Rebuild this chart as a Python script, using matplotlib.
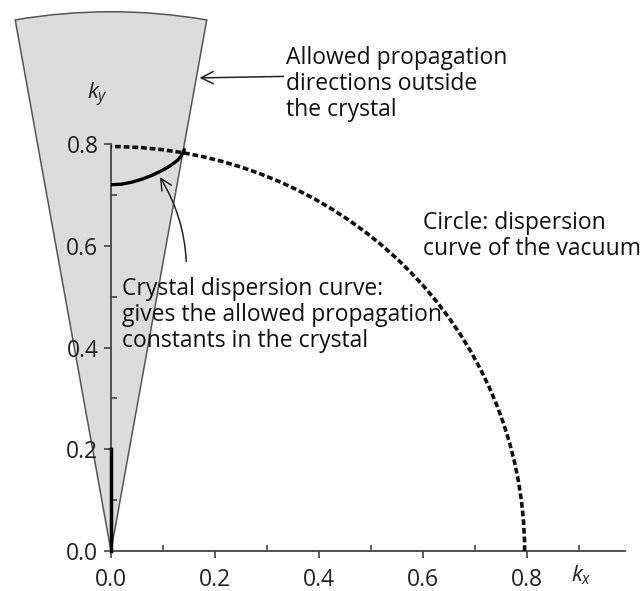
import matplotlib
matplotlib.use('Agg')
import matplotlib.pyplot as plt
from matplotlib.patches import Arc, Wedge
from matplotlib.ticker import MultipleLocator

plt.rcParams['font.family'] = ['Open Sans', 'DejaVu Sans']
plt.rcParams['mathtext.fontset'] = 'custom'
plt.rcParams['mathtext.it'] = 'Open Sans:italic'
plt.rcParams['mathtext.rm'] = 'Open Sans'

# vacuum dispersion circle and cone of allowed directions outside the crystal
vacuum_radius = 0.795
cone_radius = 1.06
cone_half_angle = 10.0  # degrees from the ky axis

# crystal dispersion curve (kx, ky)
crystal_kx = [0.0, 0.02, 0.04, 0.06, 0.08, 0.10, 0.115, 0.128, 0.136, 0.141]
crystal_ky = [0.720, 0.721, 0.725, 0.731, 0.739, 0.749, 0.758, 0.768, 0.778, 0.789]

# thick segment along the ky axis
axis_seg_ky = [0.0, 0.2]

xticks = [0.0, 0.2, 0.4, 0.6, 0.8]
yticks = [0.0, 0.2, 0.4, 0.6, 0.8]

fig = plt.figure(figsize=(6.4, 5.91), dpi=100)
ax = fig.add_axes([0.1734, 0.0677, 0.8032, 0.6886])
ax.set_xlim(0, 0.988)
ax.set_ylim(0, 0.8)

for s in ['top', 'right']:
    ax.spines[s].set_visible(False)
for s in ['left', 'bottom']:
    ax.spines[s].set_color('#444444')
    ax.spines[s].set_linewidth(1.3)
    ax.spines[s].set_zorder(3)

ax.set_xticks(xticks)
ax.set_yticks(yticks)
ax.set_xticklabels(['%.1f' % v for v in xticks])
ax.set_yticklabels(['%.1f' % v for v in yticks])
ax.xaxis.set_minor_locator(MultipleLocator(0.1))
ax.yaxis.set_minor_locator(MultipleLocator(0.1))
ax.tick_params(which='major', direction='out', length=5, width=1.2,
               color='#444444', labelsize=16.5, labelcolor='#222222', pad=4)
ax.tick_params(axis='x', which='major', pad=7)
ax.tick_params(which='minor', direction='in', length=4, width=1.2, color='#444444')

cone = Wedge((0, 0), cone_radius, 90 - cone_half_angle, 90 + cone_half_angle,
             facecolor='#dcdcdc', edgecolor='#555555', linewidth=1.1,
             clip_on=False, zorder=1)
ax.add_patch(cone)

circle = Arc((0, 0), 2 * vacuum_radius, 2 * vacuum_radius, theta1=0, theta2=90,
             color='#111111', linewidth=2.6, linestyle=(0, (1.6, 0.8)), zorder=4)
ax.add_patch(circle)

ax.plot(crystal_kx, crystal_ky, color='black', linewidth=2.4, zorder=5,
        solid_capstyle='round')
ax.plot([0, 0], axis_seg_ky, color='black', linewidth=2.5, zorder=5, clip_on=False)

ax.text(-0.027, 0.896, '$k_y$', fontsize=16, ha='center', va='center',
        color='#222222')
ax.text(0.905, -0.048, '$k_x$', fontsize=16, ha='center', va='center',
        color='#222222')

ax.annotate('Allowed propagation\ndirections outside\nthe crystal',
            xy=(0.17, 0.93), xytext=(0.337, 0.918), annotation_clip=False,
            fontsize=16.5, va='center', ha='left', color='#111111',
            linespacing=1.12,
            arrowprops=dict(arrowstyle='->', color='#222222', lw=1.1,
                            mutation_scale=22, shrinkA=0, shrinkB=0,
                            relpos=(0.0, 0.6)))

ax.text(0.60, 0.619, 'Circle: dispersion\ncurve of the vacuum', fontsize=16.5,
        ha='left', va='center', color='#111111', linespacing=1.12)

ax.annotate('Crystal dispersion curve:\ngives the allowed propagation\nconstants in the crystal',
            xy=(0.094, 0.735), xytext=(0.022, 0.464),
            fontsize=16.5, ha='left', va='center', color='#111111',
            linespacing=1.12, zorder=6,
            arrowprops=dict(arrowstyle='->', color='#222222', lw=1.1,
                            mutation_scale=20, shrinkA=9, shrinkB=0,
                            connectionstyle='arc3,rad=0.15',
                            relpos=(0.2, 1.0)))

fig.savefig('out.png', dpi=100)
